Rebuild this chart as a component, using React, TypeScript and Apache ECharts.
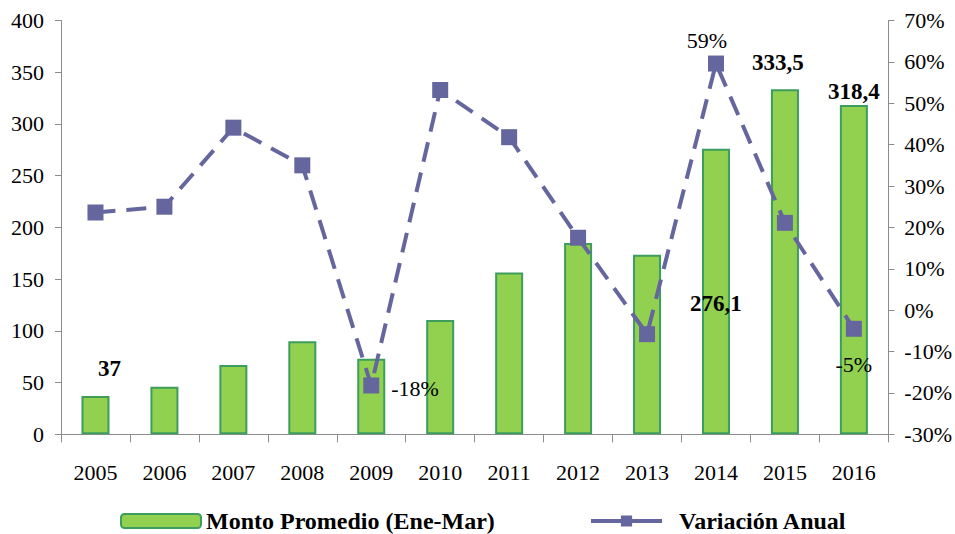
import React, { useEffect, useRef } from "react";
import * as echarts from "echarts";

const years = ["2005", "2006", "2007", "2008", "2009", "2010", "2011", "2012", "2013", "2014", "2015", "2016"];
const montoPromedio = [37, 46, 67, 90, 73, 110.5, 156.5, 185, 173.6, 276.1, 333.5, 318.4];
const variacionAnual = [23.6, 25.0, 44.1, 35.0, -18.2, 53.2, 41.8, 17.5, -5.8, 59.6, 21.1, -4.5];
const barLabels = ["37", "", "", "", "", "", "", "", "", "276,1", "333,5", "318,4"];
const lineLabels = ["", "", "", "", "-18%", "", "", "", "", "59%", "", "-5%"];

const FONT = "'Liberation Serif', 'Times New Roman', serif";
const BAR_FILL = "#92D050";
const BAR_BORDER = "#3C9D5D";
const LINE_COLOR = "#65669D";
const AXIS_COLOR = "#8C8C8C";

const barLabelStyle: any[] = [
  { position: "top", offset: [14, -11] },
  null, null, null, null, null, null, null, null,
  { position: "inside", offset: [0, 12] },
  { position: "top", offset: [-7, -10] },
  { position: "top", offset: [0, 3] },
];
const lineLabelStyle: any[] = [
  null, null, null, null,
  { position: "right", offset: [7, 3] },
  null, null, null, null,
  { position: "top", offset: [-9, 1] },
  null,
  { position: "bottom", offset: [0, 12] },
];

export default function App() {
  const ref = useRef<HTMLDivElement>(null);
  useEffect(() => {
    if (!ref.current) return;
    const chart = echarts.init(ref.current, null, { renderer: "svg" });
    const barData = montoPromedio.map((v, i) => {
      const s = barLabelStyle[i];
      if (!s || !barLabels[i]) return { value: v };
      return {
        value: v,
        label: {
          show: true,
          formatter: barLabels[i],
          position: s.position,
          offset: s.offset,
          fontFamily: FONT,
          fontWeight: "bold",
          fontSize: 23,
          color: "#000",
        },
      };
    });
    const lineData = variacionAnual.map((v, i) => {
      const s = lineLabelStyle[i];
      if (!s || !lineLabels[i]) return { value: v };
      return {
        value: v,
        label: {
          show: true,
          formatter: lineLabels[i],
          position: s.position,
          offset: s.offset,
          fontFamily: FONT,
          fontSize: 22,
          color: "#000",
        },
      };
    });
    const legendText = { fontFamily: FONT, fontWeight: "bold", fontSize: 24, lineHeight: 24, color: "#000" };
    chart.setOption({
      animation: false,
      backgroundColor: "#fff",
      textStyle: { fontFamily: FONT },
      grid: { left: 61, right: 65, top: 20.5, bottom: 99.7, containLabel: false },
      legend: [
        {
          data: [{ name: "Monto Promedio (Ene-Mar)" }],
          left: 120,
          top: 509,
          padding: 0,
          itemWidth: 80,
          itemHeight: 14,
          textStyle: legendText,
        },
        {
          data: [{ name: "Variación Anual" }],
          left: 589,
          top: 509,
          padding: 0,
          itemWidth: 71,
          itemHeight: 14,
          lineStyle: { type: "solid", width: 4 },
          textStyle: { ...legendText, padding: [0, 0, 0, 12] },
        },
      ],
      xAxis: {
        type: "category",
        data: years,
        boundaryGap: true,
        axisLine: { lineStyle: { color: AXIS_COLOR, width: 1 } },
        axisTick: { show: true, alignWithLabel: false, length: 8, lineStyle: { color: AXIS_COLOR } },
        axisLabel: { margin: 27, fontFamily: FONT, fontSize: 22, color: "#000" },
        splitLine: { show: false },
      },
      yAxis: [
        {
          type: "value",
          min: 0,
          max: 400,
          interval: 50,
          axisLine: { show: true, lineStyle: { color: AXIS_COLOR } },
          axisTick: { show: true, length: 6, lineStyle: { color: AXIS_COLOR } },
          axisLabel: { margin: 17, fontFamily: FONT, fontSize: 22, color: "#000" },
          splitLine: { show: false },
        },
        {
          type: "value",
          min: -30,
          max: 70,
          interval: 10,
          position: "right",
          axisLine: { show: true, lineStyle: { color: AXIS_COLOR } },
          axisTick: { show: true, length: 6, lineStyle: { color: AXIS_COLOR } },
          axisLabel: {
            margin: 16,
            fontFamily: FONT,
            fontSize: 22,
            color: "#000",
            formatter: (v: number) => `${Math.round(v)}%`,
          },
          splitLine: { show: false },
        },
      ],
      series: [
        {
          name: "Monto Promedio (Ene-Mar)",
          type: "bar",
          yAxisIndex: 0,
          barWidth: 28,
          data: barData,
          itemStyle: { color: BAR_FILL, borderColor: BAR_BORDER, borderWidth: 2 },
          z: 2,
        },
        {
          name: "Variación Anual",
          type: "line",
          yAxisIndex: 1,
          data: lineData,
          symbol: "rect",
          symbolSize: 16,
          itemStyle: { color: LINE_COLOR },
          lineStyle: { color: LINE_COLOR, width: 4, type: [20, 11] },
          z: 3,
        },
      ],
    });
    return () => chart.dispose();
  }, []);
  return <div ref={ref} style={{ width: 955, height: 534, position: "absolute", left: 0, top: 0 }} />;
}
